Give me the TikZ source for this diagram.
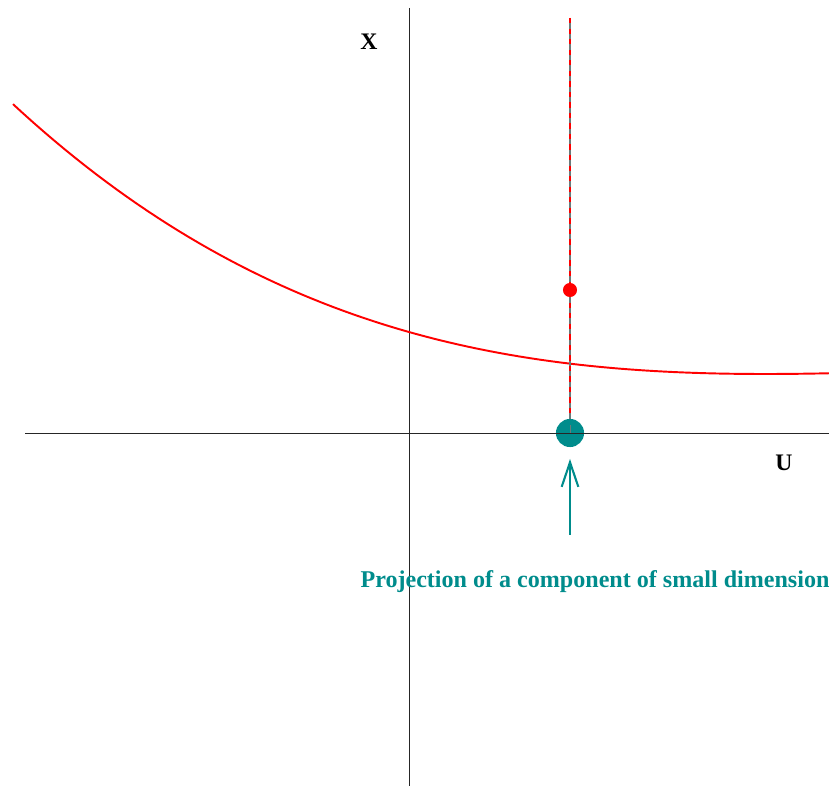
\documentclass[tikz,border=0pt]{standalone}
\usepackage{fontspec}
\setmainfont{Liberation Serif}
\usetikzlibrary{arrows.meta, positioning, calc}
\definecolor{projteal}{HTML}{008C8C}
\definecolor{curvered}{HTML}{FF0000}
\definecolor{axisgray}{HTML}{6B7B7B}

\begin{document}
\begin{tikzpicture}[x=0.02cm, y=-0.02cm,
    axis/.style={draw=black!85, line width=0.5pt},
    axislabel/.style={font=\fontsize{13.5}{15}\selectfont\bfseries, text=black},
    projlabel/.style={font=\fontsize{13.7}{15}\selectfont\bfseries, text=projteal}]
    \useasboundingbox (0, 0) rectangle (829, 786);

    % Axes
    \coordinate (uleft) at (25, 433);
    \coordinate (uright) at (829, 433);
    \coordinate (xtop) at (409, 8);
    \coordinate (xbottom) at (409, 786);
    \draw[axis] (uleft) -- (uright);
    \draw[axis] (xtop) -- (xbottom);
    \node[axislabel] (xlab) at (369, 42) {X};
    \node[axislabel] (ulab) at (784, 463) {U};

    % Curve (v = distance to the minimum, in hundreds)
    \draw[curvered, line width=1.1pt, domain=13:829, samples=80, variable=\x]
        plot ({\x}, {374 - 2.0*((765-\x)/100)^2 - 0.3686*((765-\x)/100)^3});

    % Fibre
    \coordinate (fibtop) at (570, 18);
    \coordinate (fibfoot) at (570, 433);
    \draw[axisgray, line width=0.7pt] (fibtop) -- (fibfoot);
    \draw[curvered, line width=0.7pt, dash pattern=on 3pt off 3pt] (fibtop) -- (fibfoot);

    % Points
    \node[circle, fill=projteal, inner sep=0pt, minimum size=16pt] (proj) at (fibfoot) {};
    \node[circle, fill=curvered, inner sep=0pt, minimum size=8pt] (pt) at (570, 290) {};
    \draw[axis] ($(proj.center)+(-14,0)$) -- ($(proj.center)+(14,0)$);
    \draw[axisgray, line width=0.5pt] (proj.center) -- ++(0, -8);

    % Arrow and label
    \coordinate (arrtail) at (570, 535);
    \coordinate (arrhead) at (570, 459);
    \draw[projteal, line width=1.2pt, -{Straight Barb[length=14pt, width=9.5pt, line width=1.2pt]}] (arrtail) -- (arrhead);
    \node[projlabel] (projtext) at (595, 582) {Projection of a component of small dimension};
\end{tikzpicture}
\end{document}
